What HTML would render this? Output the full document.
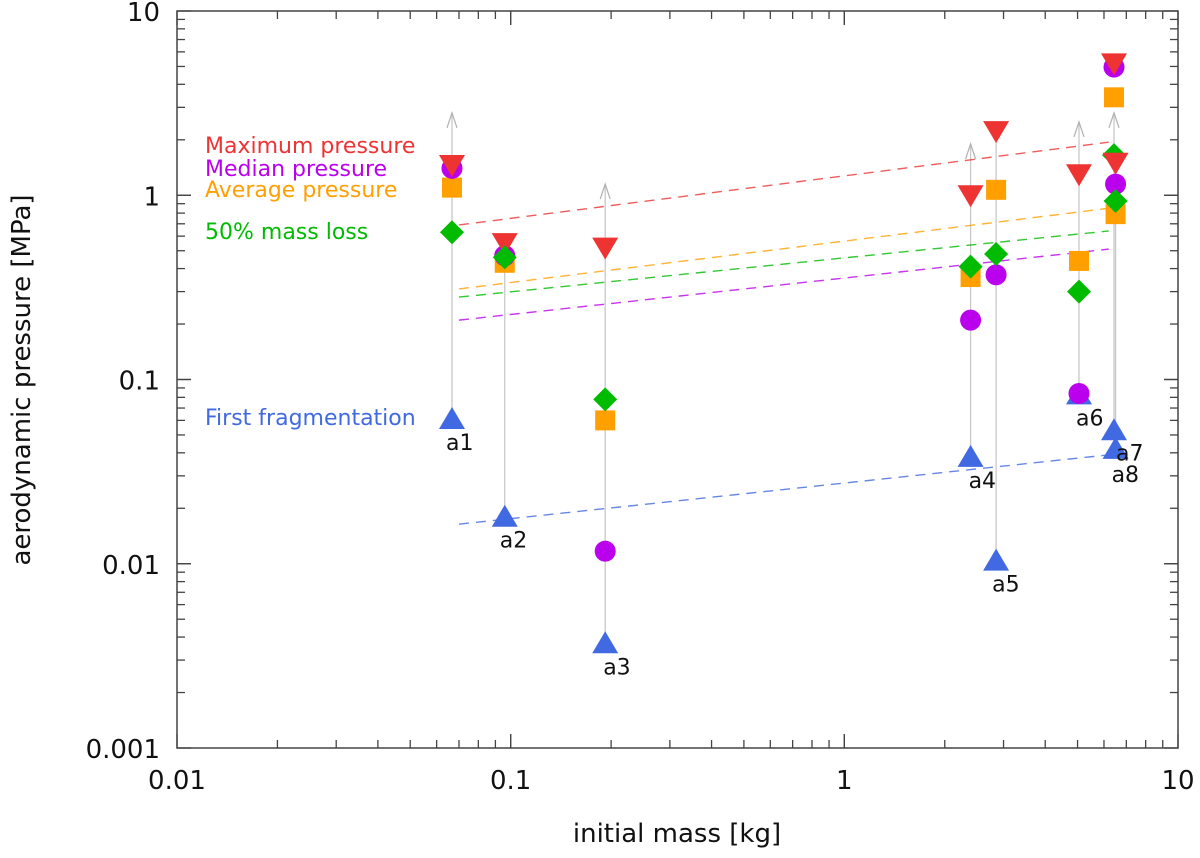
<!DOCTYPE html>
<html><head><meta charset="utf-8"><style>
body{margin:0;background:#fff;}
svg text{font-family:"DejaVu Sans","Liberation Sans",sans-serif;}
</style></head><body>
<svg id="c" width="1200" height="853" xmlns="http://www.w3.org/2000/svg"></svg>
<script>
const names=["a1","a2","a3","a4","a5","a6","a7","a8"];
const mass=[0.0667,0.096,0.192,2.39,2.85,5.05,6.43,6.5];
const pMax=[1.46,0.55,0.52,1.0,2.23,1.30,5.2,1.5];
const pMed=[1.40,0.47,0.0117,0.21,0.37,0.084,4.96,1.15];
const pAvg=[1.10,0.43,0.060,0.36,1.07,0.44,3.4,0.79];
const p50=[0.63,0.46,0.078,0.41,0.48,0.30,1.65,0.93];
const pFirst=[0.061,0.018,0.0037,0.038,0.0104,0.083,0.053,0.042];
const arrowTop=[2.8,null,1.15,1.9,null,2.5,2.8,null];
const fitX=[0.07,6.2];
const fitMax=[0.69,1.94],fitAvg=[0.31,0.85],fit50=[0.28,0.64],fitMed=[0.21,0.51],fitFirst=[0.0164,0.039];
const xTicks=[0.01,0.1,1,10],xTickLabels=["0.01","0.1","1","10"];
const yTicks=[0.001,0.01,0.1,1,10],yTickLabels=["0.001","0.01","0.1","1","10"];
const L=177,R=1178,T=11,B=748;
const X=v=>L+(Math.log10(v)+2)/3*(R-L);
const Y=v=>B-(Math.log10(v)+3)/4*(B-T);
const svg=document.getElementById('c');const NS="http://www.w3.org/2000/svg";
function mk(t,a,p){const e=document.createElementNS(NS,t);for(const k in a)e.setAttribute(k,a[k]);(p||svg).appendChild(e);return e;}
const RED="#ee3333",PUR="#bb00ee",ORA="#ffa000",GRN="#00bb00",BLU="#4169e1";
names.forEach((n,i)=>{const top=arrowTop[i]||pMax[i];
 const g=mk('line',{x1:X(mass[i]),x2:X(mass[i]),y1:Y(pFirst[i]),y2:Y(top),stroke:"#c8c8c8","stroke-width":1.3});
 
 if(arrowTop[i]){const x=X(mass[i]),y=Y(arrowTop[i]);
  const a=mk('path',{d:`M${x-5},${y+15}L${x},${y}L${x+5},${y+15}`,fill:"none",stroke:"#b0b0b0","stroke-width":1.2});
  }
});
[[fitMax,RED,"max"],[fitAvg,ORA,"avg"],[fit50,GRN,"50"],[fitMed,PUR,"med"],[fitFirst,BLU,"first"]].forEach(([f,c,n])=>{
 const l=mk('line',{x1:X(fitX[0]),x2:X(fitX[1]),y1:Y(f[0]),y2:Y(f[1]),stroke:c,"stroke-width":1.4,"stroke-dasharray":"10,7",opacity:0.8});
 });
function tri(x,y,up){const s=13;return up?`M${x-s},${y+10}L${x+s},${y+10}L${x},${y-12}Z`:`M${x-s},${y-10}L${x+s},${y-10}L${x},${y+12}Z`;}
names.forEach((n,i)=>{const x=X(mass[i]);
 let e=mk('path',{d:tri(x,Y(pFirst[i]),true),fill:BLU});
 e=mk('rect',{x:x-10,y:Y(pAvg[i])-10,width:20,height:20,fill:ORA});
 e=mk('circle',{cx:x,cy:Y(pMed[i]),r:10.5,fill:PUR});
 e=mk('path',{d:tri(x,Y(pMax[i]),false),fill:RED});
 const y5=Y(p50[i]);e=mk('path',{d:`M${x},${y5-12}L${x+12},${y5}L${x},${y5+12}L${x-12},${y5}Z`,fill:GRN});
});
const lblOff=[[-6,31],[-5,31],[-2,31],[-2,31],[-4,31],[-3,31],[2,30],[-4,33]];
names.forEach((n,i)=>{const t=mk('text',{x:X(mass[i])+lblOff[i][0],y:Y(pFirst[i])+lblOff[i][1],"font-size":22,fill:"#111"});t.textContent=n;
 });
let fr=mk('rect',{x:L,y:T,width:R-L,height:B-T,fill:"none",stroke:"#444","stroke-width":1.5});
for(let d=-2;d<1;d++)for(let m=1;m<=10;m++){const v=m*Math.pow(10,d),x=X(v),len=m==1||m==10?14:8;
 mk('line',{x1:x,x2:x,y1:B,y2:B-len,stroke:"#444","stroke-width":1.3});mk('line',{x1:x,x2:x,y1:T,y2:T+len,stroke:"#444","stroke-width":1.3});}
for(let d=-3;d<1;d++)for(let m=1;m<=10;m++){const v=m*Math.pow(10,d),y=Y(v),len=m==1||m==10?14:8;
 mk('line',{x1:L,x2:L+len,y1:y,y2:y,stroke:"#444","stroke-width":1.3});mk('line',{x1:R,x2:R-len,y1:y,y2:y,stroke:"#444","stroke-width":1.3});}
xTicks.forEach((v,i)=>{const t=mk('text',{x:X(v),y:789,"font-size":26,"text-anchor":"middle",fill:"#111"});t.textContent=xTickLabels[i];
 });
yTicks.forEach((v,i)=>{const t=mk('text',{x:160,y:Y(v)+10,"font-size":26,"text-anchor":"end",fill:"#111"});t.textContent=yTickLabels[i];
 });
let t=mk('text',{x:677,y:842,"font-size":26,"text-anchor":"middle",fill:"#111"});t.textContent="initial mass [kg]";
t=mk('text',{x:0,y:0,"font-size":26,"text-anchor":"middle",fill:"#111",transform:"translate(30,380) rotate(-90)"});t.textContent="aerodynamic pressure [MPa]";
[["Maximum pressure",RED,153],["Median pressure",PUR,176],["Average pressure",ORA,197],["50% mass loss",GRN,239],["First fragmentation",BLU,425]].forEach(([s,c,y])=>{
 const e=mk('text',{x:205,y:y,"font-size":22,fill:c});e.textContent=s;});
</script>
</body></html>
